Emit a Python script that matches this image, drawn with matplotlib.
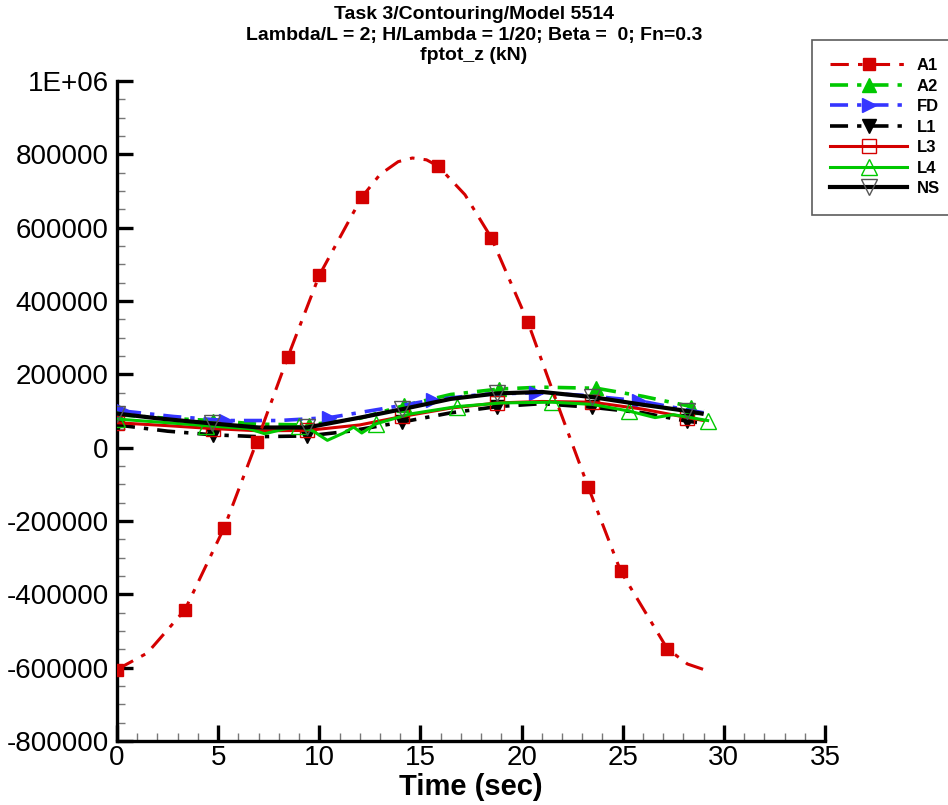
import matplotlib
matplotlib.use("Agg")
import matplotlib.pyplot as plt
from matplotlib.ticker import MultipleLocator, FuncFormatter

plt.rcParams['font.family'] = ['Liberation Sans', 'DejaVu Sans']

# A1 - large oscillation
t_a1 = [0, 1.5, 3.36, 5.3, 6.9, 8.45, 10.0, 12.1, 13.0, 13.9, 14.6, 15.3, 15.87, 17.2,
        18.5, 20.3, 21.8, 23.3, 24.9, 27.2, 28.2, 29.0]
v_a1 = [-605000, -560000, -442000, -218000, 15000, 248000, 470000, 683000, 745000, 780000,
        790000, 785000, 768000, 690000, 573000, 344000, 115000, -108000, -337000, -548000,
        -590000, -605000]
mk_a1 = [0, 2, 3, 4, 5, 6, 7, 12, 14, 15, 17, 18, 19]

# A2
t_a2 = [0, 2.5, 4.75, 7, 9.5, 12, 14.2, 16.5, 18.9, 21, 23.7, 26, 28.4, 29.0]
v_a2 = [90000, 80000, 74000, 64000, 62000, 80000, 115000, 145000, 160000, 165000, 162000,
        140000, 112000, 100000]
mk_a2 = [0, 2, 4, 6, 8, 10, 12]

# FD
t_fd = [0.3, 2.8, 5.4, 8.0, 10.5, 13.0, 15.6, 18.0, 20.7, 23.0, 25.8, 27.5, 29.0]
v_fd = [100000, 85000, 74000, 74000, 82000, 105000, 130000, 145000, 150000, 143000,
        128000, 110000, 95000]
mk_fd = [0, 2, 4, 6, 8, 10]

# L1
t_l1 = [0, 2.5, 4.75, 7, 9.4, 11.5, 14.1, 16.5, 18.8, 21, 23.5, 26, 28.2, 28.8]
v_l1 = [62000, 45000, 35000, 30000, 32000, 45000, 70000, 95000, 112000, 120000, 110000,
        95000, 72000, 68000]
mk_l1 = [0, 2, 4, 6, 8, 10, 12]

# L3
t_l3 = [0, 2.5, 4.75, 7, 9.4, 12, 14.1, 16.5, 18.8, 21, 23.5, 26, 28.2, 29.0]
v_l3 = [68000, 60000, 52000, 46000, 47000, 62000, 85000, 108000, 122000, 126000, 124000,
        105000, 82000, 74000]
mk_l3 = [0, 2, 4, 6, 8, 10, 12]

# L4
t_l4 = [0, 2.5, 4.4, 6.5, 7.3, 8.2, 9.0, 9.7, 10.4, 11.2, 11.7, 12.1, 12.8, 14.5, 16.8,
        19.0, 21.5, 23.5, 25.3, 26.6, 27.5, 29.2]
v_l4 = [78000, 68000, 60000, 52000, 38000, 50000, 58000, 45000, 20000, 40000, 56000, 40000,
        65000, 92000, 112000, 122000, 124000, 118000, 100000, 82000, 90000, 74000]
mk_l4 = [0, 2, 6, 12, 14, 16, 18, 21]

# NS
t_ns = [0, 2, 4.7, 7, 9.4, 12.3, 14.1, 16.5, 18.8, 21, 23.5, 26, 28.2, 28.9]
v_ns = [93000, 80000, 66000, 55000, 55000, 85000, 105000, 133000, 148000, 152000, 138000,
        117000, 100000, 93000]
mk_ns = [0, 2, 4, 6, 8, 10, 12]

red = '#d40000'
green = '#00c800'
blue = '#3535ff'

fig = plt.figure(figsize=(9.48, 8.05), dpi=100)
ax = fig.add_axes([117 / 948, 64 / 805, 708 / 948, 660 / 805])

dd = (5, 2.5, 1.2, 2.5)

ax.plot(t_a2, v_a2, color=green, lw=2.6, dashes=dd, marker='^', ms=10,
        markevery=mk_a2, label='A2', zorder=3)
ax.plot(t_fd, v_fd, color=blue, lw=2.6, dashes=dd, marker='>', ms=10,
        markevery=mk_fd, label='FD', zorder=3)
ax.plot(t_l1, v_l1, color='black', lw=2.6, dashes=dd, marker='v', ms=10,
        markevery=mk_l1, label='L1', zorder=3)
ax.plot(t_l3, v_l3, color=red, lw=2.2, marker='s', ms=10, mfc='none', mec=red, mew=1,
        markevery=mk_l3, label='L3', zorder=4)
ax.plot(t_l4, v_l4, color=green, lw=2.2, marker='^', ms=11, mfc='none', mec=green, mew=1,
        markevery=mk_l4, label='L4', zorder=4)
ax.plot(t_ns, v_ns, color='black', lw=3.0, marker='v', ms=11, mfc='none', mec='#555555',
        mew=1, markevery=mk_ns, label='NS', zorder=5)
ax.plot(t_a1, v_a1, color=red, lw=2.2, dashes=(6, 3, 1.5, 3), marker='s', ms=9,
        markevery=mk_a1, label='A1', zorder=6)

ax.set_xlim(0, 35)
ax.set_ylim(-800000, 1000000)
ax.xaxis.set_major_locator(MultipleLocator(5))
ax.xaxis.set_minor_locator(MultipleLocator(1))
ax.yaxis.set_major_locator(MultipleLocator(200000))
ax.yaxis.set_minor_locator(MultipleLocator(50000))


def yfmt(v, pos):
    if abs(v - 1000000) < 1:
        return '1E+06'
    return '%d' % round(v)


ax.yaxis.set_major_formatter(FuncFormatter(yfmt))

for s in ['top', 'right']:
    ax.spines[s].set_visible(False)
for s in ['left', 'bottom']:
    ax.spines[s].set_linewidth(2.4)

ax.tick_params(which='major', direction='in', length=11.5, width=2.4, labelsize=20, pad=6)
ax.tick_params(axis='x', which='major', pad=3)
ax.tick_params(which='minor', direction='in', length=6, width=1, color='#777777')
ax.set_xlabel('Time (sec)', fontsize=21, fontweight='bold', labelpad=1)

fig.text(0.5, 0.992, 'Task 3/Contouring/Model 5514\n'
         'Lambda/L = 2; H/Lambda = 1/20; Beta =  0; Fn=0.3\nfptot_z (kN)',
         ha='center', va='top', fontsize=14, fontweight='bold', linespacing=1.25)

order = ['A1', 'A2', 'FD', 'L1', 'L3', 'L4', 'NS']
h, l = ax.get_legend_handles_labels()
hd = dict(zip(l, h))
leg = fig.legend([hd[k] for k in order], order, loc='upper left',
                 bbox_to_anchor=(812 / 948, 1 - 40 / 805), frameon=True, fancybox=False,
                 edgecolor='#333333', prop={'weight': 'bold', 'size': 12},
                 handlelength=4.6, labelspacing=0.33, borderpad=1.1, handletextpad=0.6,
                 borderaxespad=0)
leg.get_frame().set_linewidth(1.2)

fig.savefig('out.png', dpi=100)
